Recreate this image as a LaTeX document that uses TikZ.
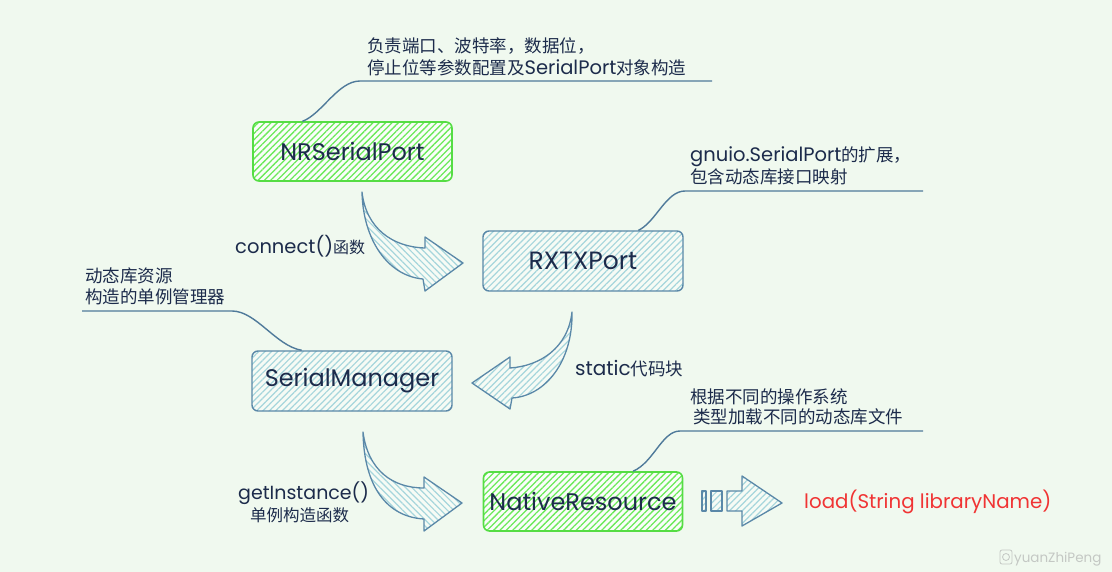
\documentclass[tikz,border=0pt]{standalone}
\usepackage{fontspec}
\setmainfont{Poppins}
\newfontfamily\cjk{Noto Sans CJK SC}
\newcommand{\cj}[1]{{\cjk #1}}
\newcommand{\lat}[1]{{\fontsize{19.5}{20}\selectfont #1}}
\usetikzlibrary{patterns.meta,calc}
\definecolor{bgc}{HTML}{F0F9EF}
\definecolor{gborder}{HTML}{55DD44}
\definecolor{ghatch}{HTML}{6BEA5A}
\definecolor{bborder}{HTML}{5A88A8}
\definecolor{bhatch}{HTML}{A6D6DC}
\definecolor{txt}{HTML}{1C2B4B}
\definecolor{annl}{HTML}{4F7A9A}
\definecolor{redt}{HTML}{F03434}
\definecolor{wm}{HTML}{C4C8C4}
\tikzset{
  greenbox/.style={draw=gborder, line width=1.6pt, rounded corners=6pt,
    minimum width=199pt, minimum height=59pt, text=txt,
    font=\fontsize{24}{26}\selectfont,
    preaction={fill=white!70!bgc},
    pattern={Lines[angle=45,distance=4.5pt,line width=1.3pt]}, pattern color=ghatch},
  bluebox/.style={draw=bborder, line width=1.4pt, rounded corners=6pt,
    minimum width=200pt, minimum height=60pt, text=txt,
    font=\fontsize{24}{26}\selectfont,
    preaction={fill=white!40!bgc},
    pattern={Lines[angle=45,distance=4.5pt,line width=1.2pt]}, pattern color=bhatch},
  bigarrow/.style={draw=bborder, line width=1.3pt, line join=round,
    preaction={fill=white!40!bgc},
    pattern={Lines[angle=#1,distance=4.5pt,line width=1.2pt]}, pattern color=bhatch},
  annline/.style={draw=annl, line width=1.4pt},
  anntext/.style={anchor=base west, inner sep=0pt, text=txt, font=\fontsize{17.5}{19}\selectfont},
  labeltext/.style={anchor=base west, inner sep=0pt, text=txt, font=\fontsize{19.5}{21}\selectfont},
}
\begin{document}
\begin{tikzpicture}[x=1pt,y=-1pt]
\fill[bgc] (0,0) rectangle (1112,572);
\useasboundingbox (0,0) rectangle (1112,572);

% nodes
\node[greenbox] (nr) at (352.5,151.5) {NRSerialPort};
\node[bluebox, font=\fontsize{25}{27}\selectfont] (rx) at (583,261) {RXTXPort};
\node[bluebox] (sm) at (352,381) {SerialManager};
\node[greenbox] (na) at (583,501.5) {NativeResource};

% annotation connectors
\coordinate (e1) at (712,81);
\coordinate (e2) at (923,191);
\coordinate (e3) at (82,311);
\coordinate (e4) at (923,431);
\draw[annline] ($(nr.north west)!0.25!(nr.north east)$) .. controls (322,114) and (338,81) .. (360,81) -- (e1);
\draw[annline] ($(rx.north west)!0.775!(rx.north east)$) .. controls (656,222) and (666,191) .. (685,191) -- (e2);
\draw[annline] ($(sm.north west)!0.25!(sm.north east)$) .. controls (276,346) and (256,311) .. (232,311) -- (e3);
\draw[annline] ($(na.north west)!0.75!(na.north east)$) .. controls (654,462) and (662,431) .. (680,431) -- (e4);

% annotation texts
\node[anntext] (t1a) at (367,53) {\cj{负责端口、波特率，数据位，}};
\node[anntext] (t1b) at (367,75) {\cj{停止位等参数配置及}\lat{SerialPort}\cj{对象构造}};
\node[anntext] (t2a) at (690,162) {\lat{gnuio.SerialPort}\cj{的扩展，}};
\node[anntext] (t2b) at (690,184) {\cj{包含动态库接口映射}};
\node[anntext] (t3a) at (85,283) {\cj{动态库资源}};
\node[anntext] (t3b) at (85,304) {\cj{构造的单例管理器}};
\node[anntext] (t4a) at (690,403) {\cj{根据不同的操作系统}};
\node[anntext] (t4b) at (693,423) {\cj{类型加载不同的动态库文件}};

% curved arrows
\draw[bigarrow=-45] (362,192) .. controls (363,240) and (388,276) .. (423,279)
  -- (425,291) -- (463,263) -- (425,237) -- (425,248)
  .. controls (392,247) and (366,228) .. cycle;
\draw[bigarrow=45] (572,312) .. controls (573,362) and (545,396) .. (512,398)
  -- (510,409) -- (472,383) -- (510,357) -- (510,368)
  .. controls (540,366) and (568,348) .. cycle;
\draw[bigarrow=-45] (363,432) .. controls (368,470) and (392,488) .. (424,488)
  -- (424,477) -- (462,503) -- (424,531) -- (424,519)
  .. controls (388,517) and (364,488) .. cycle;

% straight arrow
\draw[bigarrow=45] (702,491) rectangle (706,511);
\draw[bigarrow=45] (711,491) rectangle (722,511);
\draw[bigarrow=45] (727,491) -- (742,491) -- (742,476) -- (782,503) -- (742,526) -- (742,511) -- (727,511) -- cycle;

% labels
\node[labeltext] (l1) at (235,254) {connect()\cj{\fontsize{16}{18}\selectfont 函数}};
\node[labeltext, font=\fontsize{20}{21}\selectfont] (l2) at (575,375) {static\cj{\fontsize{17.5}{19}\selectfont 代码块}};
\node[labeltext, font=\fontsize{19}{21}\selectfont] (l3) at (238,499) {getInstance()};
\node[labeltext, font=\fontsize{16.5}{18}\selectfont] (l4) at (250,521) {\cj{单例构造函数}};
\node[labeltext, text=redt, font=\fontsize{19.8}{21}\selectfont] (l5) at (804,508) {load(String libraryName)};

% watermark
\draw[wm, line width=0.8pt, rounded corners=2pt] (1000,550) rectangle (1012,564);
\draw[wm, line width=0.8pt] (1006,557) circle (3.5);
\node[anchor=base west, inner sep=0pt, text=wm, font=\fontsize{13.5}{15}\selectfont] (wmt) at (1014,562) {yuanZhiPeng};
\end{tikzpicture}
\end{document}
